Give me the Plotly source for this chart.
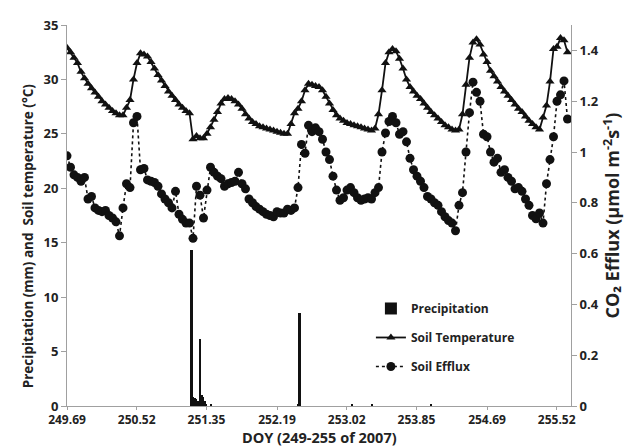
import plotly.graph_objects as go

# Hourly time axis (DOY)
start_doy = 249.69
n_hours = 144
doy = [start_doy + i / 24 for i in range(n_hours)]

soil_temp = [
    32.9, 32.5, 32.0, 31.5, 30.7, 30.1, 29.6, 29.2, 28.8, 28.4,
    28.0, 27.7, 27.4, 27.1, 26.9, 26.7, 26.7, 27.4, 28.1, 30.0,
    31.5, 32.4, 32.3, 32.1, 31.6, 31.0, 30.4, 29.9, 29.4, 28.9,
    28.5, 28.1, 27.7, 27.4, 27.1, 26.9, 24.5, 24.8, 24.6, 24.6,
    25.0, 25.6, 26.3, 27.0, 27.8, 28.2, 28.3, 28.2, 28.0, 27.7,
    27.3, 26.8, 26.4, 26.1, 25.9, 25.7, 25.6, 25.5, 25.4, 25.3,
    25.2, 25.1, 25.0, 25.0, 25.9, 26.9, 27.3, 28.0, 29.0, 29.6,
    29.5, 29.4, 29.3, 29.0, 28.4, 27.8, 27.2, 26.7, 26.4, 26.2,
    26.0, 25.9, 25.8, 25.7, 25.6, 25.5, 25.4, 25.3, 25.5, 26.8,
    29.0, 31.5, 32.5, 32.8, 32.6, 31.9, 31.0, 30.0, 29.3, 28.9,
    28.5, 28.2, 27.8, 27.4, 27.0, 26.7, 26.4, 26.1, 25.8, 25.6,
    25.4, 25.3, 25.4, 26.8, 29.5, 32.0, 33.4, 33.7, 33.2, 32.3,
    31.6, 30.8, 30.3, 29.8, 29.3, 28.9, 28.5, 28.1, 27.7, 27.3,
    27.0, 26.6, 26.2, 25.9, 25.6, 25.4, 26.5, 27.6, 29.8, 32.8,
    33.0, 33.8, 33.6, 32.5,
]

soil_efflux = [
    0.985, 0.94, 0.91, 0.90, 0.885, 0.90, 0.815, 0.825, 0.78, 0.77,
    0.765, 0.77, 0.75, 0.74, 0.725, 0.67, 0.78, 0.875, 0.86, 1.115,
    1.14, 0.93, 0.935, 0.89, 0.885, 0.88, 0.865, 0.835, 0.815, 0.80,
    0.78, 0.845, 0.755, 0.735, 0.72, 0.72, 0.66, 0.865, 0.83, 0.74,
    0.85, 0.94, 0.92, 0.905, 0.895, 0.865, 0.875, 0.88, 0.885, 0.92,
    0.875, 0.855, 0.815, 0.80, 0.785, 0.775, 0.765, 0.755, 0.75, 0.745,
    0.765, 0.76, 0.76, 0.775, 0.77, 0.78, 0.86, 1.03, 0.995, 1.105,
    1.08, 1.095, 1.08, 1.05, 1.0, 0.97, 0.905, 0.85, 0.81, 0.82,
    0.85, 0.86, 0.84, 0.82, 0.81, 0.815, 0.82, 0.815, 0.84, 0.86,
    1.0, 1.075, 1.12, 1.14, 1.115, 1.07, 1.08, 1.04, 0.975, 0.93,
    0.905, 0.885, 0.86, 0.825, 0.815, 0.80, 0.79, 0.765, 0.745, 0.73,
    0.72, 0.69, 0.79, 0.84, 1.0, 1.155, 1.275, 1.235, 1.2, 1.07,
    1.06, 1.0, 0.96, 0.975, 0.92, 0.93, 0.90, 0.885, 0.855, 0.86,
    0.845, 0.815, 0.79, 0.75, 0.737, 0.76, 0.72, 0.875, 0.97, 1.06,
    1.2, 1.225, 1.28, 1.13,
]

precip_doy = [251.172, 251.19, 251.208, 251.226, 251.244, 251.261, 251.277,
              251.291, 251.309, 251.327, 251.345, 251.404,
              252.44, 252.458, 253.083, 253.321, 254.023]
precip_mm = [14.3, 0.8, 0.7, 0.6, 0.5, 0.5, 6.2,
             1.0, 0.8, 0.5, 0.2, 0.2,
             0.2, 8.5, 0.1, 0.1, 0.1]

x_tick_labels = ["249.69", "250.52", "251.35", "252.19", "253.02",
                 "253.85", "254.69", "255.52"]
left_ticks = [0, 5, 10, 15, 20, 25, 30, 35]
right_ticks = [0, 0.2, 0.4, 0.6, 0.8, 1, 1.2, 1.4]

FONT = "Open Sans"
TXT = "#222222"
AX = "#a0a0a0"

fig = go.Figure()

fig.add_trace(go.Bar(
    x=precip_doy, y=precip_mm, name="Precipitation",
    marker=dict(color="#111111", line=dict(width=0)),
    width=0.028, legendgroup="a",
))
fig.add_trace(go.Scatter(
    x=doy, y=soil_temp, name="Soil Temperature", mode="lines+markers",
    line=dict(color="#111111", width=1.8),
    marker=dict(symbol="triangle-up", size=8, color="#111111"),
    legendgroup="b",
))
fig.add_trace(go.Scatter(
    x=doy, y=soil_efflux, name="Soil Efflux", mode="lines+markers",
    line=dict(color="#111111", width=1.6, dash="dot"),
    marker=dict(symbol="circle", size=9, color="#111111"),
    yaxis="y2", legendgroup="c",
))

fig.update_layout(
    width=639, height=448,
    # the page body adds an 8px offset, so margins are shifted to compensate
    margin=dict(l=59, r=76, t=8, b=50),
    paper_bgcolor="white", plot_bgcolor="white",
    font=dict(family=FONT, color=TXT, size=12, weight="bold"),
    showlegend=True,
    bargap=0,
    legend=dict(
        x=0.603, y=0.294, xanchor="left", yanchor="top",
        bgcolor="rgba(0,0,0,0)", font=dict(size=12, family=FONT, color=TXT, weight="bold"),
        tracegroupgap=10, itemwidth=30,
    ),
    xaxis=dict(
        range=[249.69, 255.69],
        tickvals=[float(t) for t in x_tick_labels], ticktext=x_tick_labels,
        showline=True, linecolor=AX, linewidth=1,
        ticks="outside", ticklen=3, tickcolor=AX,
        showgrid=False, zeroline=False, ticklabeloverflow="allow",
        tickfont=dict(size=12, family=FONT, color=TXT, weight="bold"),
    ),
    yaxis=dict(
        range=[0, 35], tickvals=left_ticks,
        showline=True, linecolor=AX, linewidth=1,
        ticks="outside", ticklen=5, tickcolor=AX,
        showgrid=False, zeroline=False, ticklabeloverflow="allow",
        tickfont=dict(size=13, family=FONT, color=TXT, weight="bold"),
    ),
    yaxis2=dict(
        range=[0, 1.5], tickvals=right_ticks,
        overlaying="y", side="right",
        showline=True, linecolor=AX, linewidth=1,
        ticks="outside", ticklen=5, tickcolor=AX,
        showgrid=False, zeroline=False, ticklabeloverflow="allow",
        tickfont=dict(size=13, family=FONT, color=TXT, weight="bold"),
        title=dict(text="CO₂ Efflux (µmol m<sup>-2</sup>s<sup>-1</sup>)", standoff=8,
                   font=dict(size=18, family=FONT, color=TXT, weight="bold")),
    ),
    annotations=[
        dict(
            text="Precipitation (mm) and  Soil temperature (°C)",
            xref="paper", yref="paper", x=-0.077, y=0.446,
            xanchor="center", yanchor="middle", textangle=-90, showarrow=False,
            font=dict(size=13.5, family=FONT, color=TXT, weight="bold"),
        ),
        dict(
            text="DOY (249-255 of 2007)",
            xref="paper", yref="paper", x=0.5, y=-0.083,
            xanchor="center", yanchor="middle", showarrow=False,
            font=dict(size=14.5, family=FONT, color=TXT, weight="bold"),
        ),
    ],
)

fig.write_html("out.html")
